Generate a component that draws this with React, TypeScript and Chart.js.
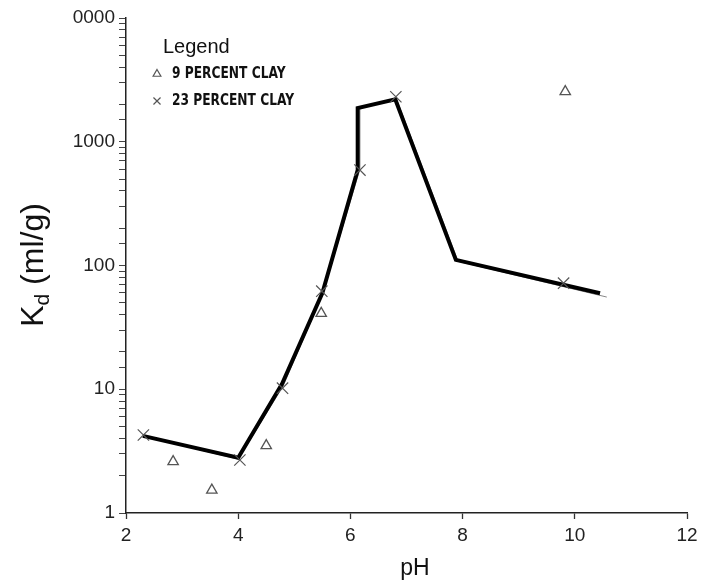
import React, { useEffect, useRef } from "react";
import { Chart, registerables } from "chart.js";

Chart.register(...registerables);

// 9 percent clay (triangles)
const clay9PH = [2.84, 3.53, 4.5, 5.48, 9.83];
const clay9Kd = [2.6, 1.53, 3.5, 41, 2540];
// 23 percent clay (crosses)
const clay23PH = [2.31, 4.03, 4.79, 5.49, 6.17, 6.81, 9.8];
const clay23Kd = [4.27, 2.68, 10.2, 62, 590, 2310, 72];
// thick fitted curve
const fitPH = [2.3, 4.0, 4.78, 5.5, 6.13, 6.13, 6.8, 7.88, 10.45];
const fitKd = [4.2, 2.8, 11, 60, 590, 1870, 2200, 111, 59.6];
// thin companion curve
const thinPH = [2.3, 4.0, 4.8, 5.5, 6.17, 6.17, 6.82, 7.92, 10.57];
const thinKd = [4.2, 2.72, 10.6, 58, 600, 1870, 2230, 108, 55.6];

const xTicks = [2, 4, 6, 8, 10, 12];
const yTickLabels: Record<string, string> = {
  "1": "1",
  "10": "10",
  "100": "100",
  "1000": "1000",
  "10000": "0000",
};

const legendTitle = "Legend";
const legendLabels = ["9 PERCENT CLAY", "23 PERCENT CLAY"];
const xTitle = "pH";

const toPts = (xs: number[], ys: number[]) => xs.map((x, i) => ({ x, y: ys[i] }));

const markerColor = "#555";

function drawTriangle(ctx: CanvasRenderingContext2D, x: number, y: number, r: number) {
  ctx.beginPath();
  ctx.moveTo(x, y - r);
  ctx.lineTo(x + r * Math.sin(Math.PI / 3), y + r / 2);
  ctx.lineTo(x - r * Math.sin(Math.PI / 3), y + r / 2);
  ctx.closePath();
  ctx.stroke();
}
function drawX(ctx: CanvasRenderingContext2D, x: number, y: number, r: number) {
  const d = r * Math.SQRT1_2;
  ctx.beginPath();
  ctx.moveTo(x - d, y - d);
  ctx.lineTo(x + d, y + d);
  ctx.moveTo(x + d, y - d);
  ctx.lineTo(x - d, y + d);
  ctx.stroke();
}

function condensedText(ctx: CanvasRenderingContext2D, text: string, x: number, y: number, sx: number) {
  ctx.save();
  ctx.translate(x, y);
  ctx.scale(sx, 1);
  ctx.fillText(text, 0, 0);
  ctx.restore();
}

const decorPlugin = {
  id: "decor",
  afterDraw(chart: any) {
    const ctx: CanvasRenderingContext2D = chart.ctx;
    const area = chart.chartArea;
    ctx.save();
    // Legend
    ctx.fillStyle = "#111";
    ctx.textBaseline = "middle";
    ctx.textAlign = "left";
    ctx.font = "20px 'Liberation Sans', Arial, sans-serif";
    ctx.fillText(legendTitle, area.left + 37, 47);
    ctx.font = "bold 16px 'DejaVu Sans Condensed', 'DejaVu Sans', sans-serif";
    ctx.strokeStyle = markerColor;
    ctx.lineWidth = 1.2;
    drawTriangle(ctx, area.left + 31, 74, 4.5);
    condensedText(ctx, legendLabels[0], area.left + 46, 74, 0.85);
    drawX(ctx, area.left + 31, 101, 5);
    condensedText(ctx, legendLabels[1], area.left + 46, 101, 0.85);

    // x title
    ctx.font = "23px 'Liberation Sans', Arial, sans-serif";
    ctx.textAlign = "center";
    ctx.textBaseline = "alphabetic";
    ctx.fillStyle = "#111";
    ctx.fillText(xTitle, area.left + 289, 575);

    // y title with subscript
    const big = "32px 'Liberation Sans', Arial, sans-serif";
    const small = "21px 'Liberation Sans', Arial, sans-serif";
    ctx.font = big;
    const wK = ctx.measureText("K").width;
    const wRest = ctx.measureText(" (ml/g)").width;
    ctx.font = small;
    const wd = ctx.measureText("d").width;
    const total = wK + wd + wRest;
    ctx.translate(43, 265);
    ctx.rotate(-Math.PI / 2);
    ctx.textAlign = "left";
    let x = -total / 2;
    ctx.font = big;
    ctx.fillText("K", x, 0);
    x += wK;
    ctx.font = small;
    ctx.fillText("d", x, 6);
    x += wd;
    ctx.font = big;
    ctx.fillText(" (ml/g)", x, 0);
    ctx.restore();
  },
};

export default function App() {
  const ref = useRef<HTMLCanvasElement | null>(null);
  useEffect(() => {
    if (!ref.current) return;
    const tickFont = { family: "'Liberation Sans', Arial, sans-serif", size: 19 };
    const chart = new Chart(ref.current, {
      type: "scatter",
      data: {
        datasets: [
          {
            label: "thin",
            data: toPts(thinPH, thinKd),
            showLine: true,
            borderColor: "#888",
            borderWidth: 1,
            pointRadius: 0,
            order: 4,
          },
          {
            label: "fit",
            data: toPts(fitPH, fitKd),
            showLine: true,
            borderColor: "#000",
            borderWidth: 4,
            pointRadius: 0,
            borderJoinStyle: "miter",
            order: 3,
          },
          {
            label: legendLabels[0],
            data: toPts(clay9PH, clay9Kd),
            pointStyle: "triangle",
            pointRadius: 6,
            borderColor: markerColor,
            backgroundColor: "rgba(0,0,0,0)",
            borderWidth: 1.3,
            order: 1,
          },
          {
            label: legendLabels[1],
            data: toPts(clay23PH, clay23Kd),
            pointStyle: "crossRot",
            pointRadius: 8,
            borderColor: markerColor,
            borderWidth: 1.2,
            order: 2,
          },
        ],
      },
      options: {
        responsive: false,
        animation: false,
        layout: { padding: { left: 0, right: 17, top: 18, bottom: 0 } },
        plugins: { legend: { display: false }, tooltip: { enabled: false } },
        scales: {
          x: {
            type: "linear",
            min: 2,
            max: 12,
            afterBuildTicks: (s: any) => {
              s.ticks = xTicks.map((v) => ({ value: v }));
            },
            afterFit: (s: any) => {
              s.height = 71;
            },
            ticks: { font: tickFont, color: "#222", padding: 5 },
            grid: { drawOnChartArea: false, drawTicks: true, tickLength: 6, color: "#333", tickWidth: 1.3 },
            border: { display: true, color: "#222", width: 1.5 },
          },
          y: {
            type: "logarithmic",
            min: 1,
            max: 10000,
            afterFit: (s: any) => {
              s.width = 126;
            },
            ticks: {
              font: tickFont,
              color: "#222",
              padding: 4,
              autoSkip: false,
              callback: (v: any) => {
                const n = Number(v);
                const e = Math.log10(n);
                if (Math.abs(e - Math.round(e)) < 1e-9) return yTickLabels[String(Math.round(n))] ?? "";
                return "";
              },
            },
            grid: { drawOnChartArea: false, drawTicks: true, tickLength: 7, color: "#444", tickWidth: 1 },
            border: { display: true, color: "#222", width: 1.5 },
          },
        },
      },
      plugins: [decorPlugin],
    } as any);
    return () => chart.destroy();
  }, []);
  return (
    <canvas
      ref={ref}
      width={704}
      height={584}
      style={{ position: "absolute", left: 0, top: 0, width: 704, height: 584 }}
    />
  );
}
